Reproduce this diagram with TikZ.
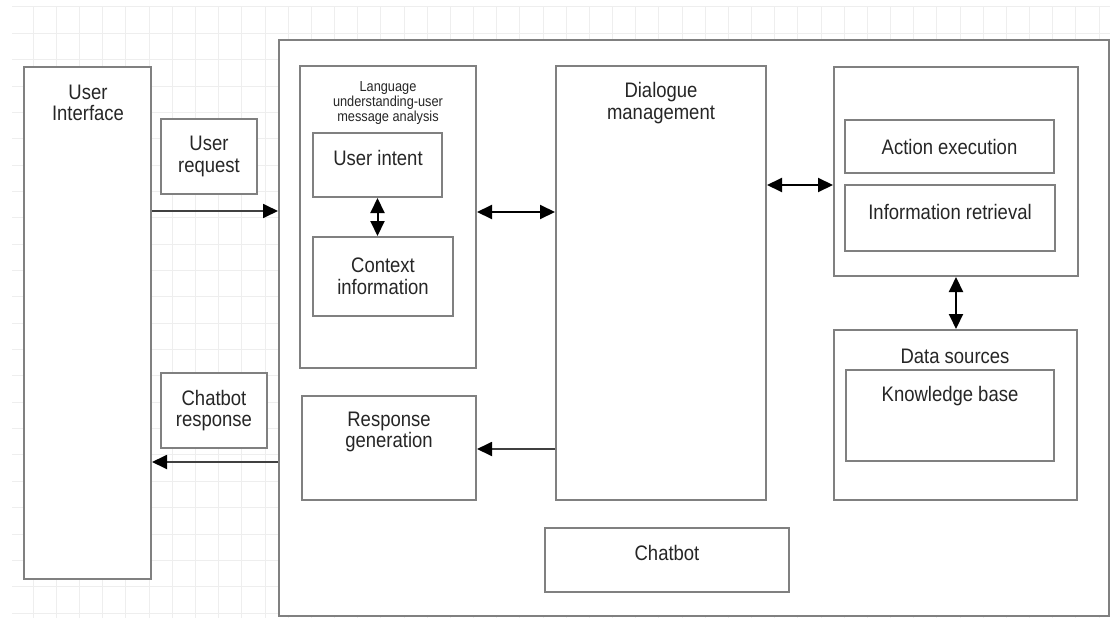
\documentclass[tikz,border=0pt]{standalone}
\usepackage{fontspec}
\setmainfont{Liberation Sans}[FakeStretch=0.88]
\usetikzlibrary{arrows.meta}
\definecolor{boxgray}{HTML}{808080}
\definecolor{gridgray}{HTML}{EEEEEE}

\begin{document}
\begin{tikzpicture}[x=1pt, y=-1pt, >={Triangle[length=15pt, width=14pt, color=black]},
  box/.style={draw=boxgray, line width=2pt, fill=white, inner sep=0pt,
    align=center, text=black!85, font=\fontsize{21}{21.5}\selectfont},
  txt/.style={inner sep=0pt, align=center, text=black!85, font=\fontsize{21}{21.5}\selectfont},
  tiny/.style={txt, font=\fontsize{14.5}{15}\selectfont},
  dbl/.style={<->, line width=2pt},
  flow/.style={->, line width=1.8pt, draw=black!75}]
  \useasboundingbox (0,0) rectangle (1110,618);
  \fill[white] (0,0) rectangle (1110,618);

  % background grid
  \foreach \i in {0,...,46}
    \draw[gridgray, line width=1pt] ({33.3+23.17*\i},7) -- ({33.3+23.17*\i},618);
  \foreach \j in {0,...,23}
    \draw[gridgray, line width=1pt] (12,{7+26.35*\j}) -- (1110,{7+26.35*\j});

  % user side
  \node[box, minimum width=127pt, minimum height=512pt] (ui) at (87.5,323) {};
  \node[txt] (ui-t) at (88,103) {User\\Interface};
  \node[box, minimum width=96pt, minimum height=75pt] (req) at (209,156.5) {User\\request};
  \node[box, minimum width=106pt, minimum height=75pt] (resp) at (214,410.5) {Chatbot\\response};

  % chatbot and its parts
  \node[box, minimum width=830pt, minimum height=576pt] (bot) at (694,328) {};
  \node[box, minimum width=176pt, minimum height=302pt] (lang) at (388,217) {};
  \node[tiny] (lang-t) at (388,103) {Language\\understanding-user\\message analysis};
  \node[box, minimum width=129pt, minimum height=64pt] (intent) at (377.5,165) {};
  \node[txt] (intent-t) at (378,158) {User intent};
  \node[box, minimum width=140pt, minimum height=79pt] (context) at (383,276.5) {Context\\information};
  \node[box, minimum width=174pt, minimum height=104pt] (gen) at (389,448) {};
  \node[txt] (gen-t) at (389,432) {Response\\generation};
  \node[box, minimum width=210pt, minimum height=434pt] (dialog) at (661,283) {};
  \node[txt] (dialog-t) at (661,103) {Dialogue\\management};
  \node[box, minimum width=244pt, minimum height=64pt] (chat) at (667,560) {};
  \node[txt] (chat-t) at (667,553) {Chatbot};
  \node[box, minimum width=244pt, minimum height=209pt] (act) at (956,171.5) {};
  \node[box, minimum width=209pt, minimum height=53pt] (action) at (949.5,146.5) {Action execution};
  \node[box, minimum width=210pt, minimum height=66pt] (inforet) at (950,218) {};
  \node[txt] (inforet-t) at (950,212) {Information retrieval};
  \node[box, minimum width=243pt, minimum height=170pt] (data) at (955.5,415) {};
  \node[txt] (data-t) at (955,356) {Data sources};
  \node[box, minimum width=208pt, minimum height=91pt] (kb) at (950,415.5) {};
  \node[txt] (kb-t) at (950,396) {Knowledge base};

  % connectors
  \draw[flow] (ui.east |- 0,211) -- (bot.west |- 0,211);
  \draw[flow] (bot.west |- 0,462) -- (ui.east |- 0,462);
  \draw[dbl] (intent.south) -- (intent.south |- context.north);
  \draw[dbl] (lang.east |- 0,212) -- (dialog.west |- 0,212);
  \draw[dbl] (dialog.east |- 0,185) -- (act.west |- 0,185);
  \draw[dbl] (act.south) -- (act.south |- data.north);
  \draw[flow] (dialog.west |- 0,449) -- (gen.east |- 0,449);
\end{tikzpicture}
\end{document}
